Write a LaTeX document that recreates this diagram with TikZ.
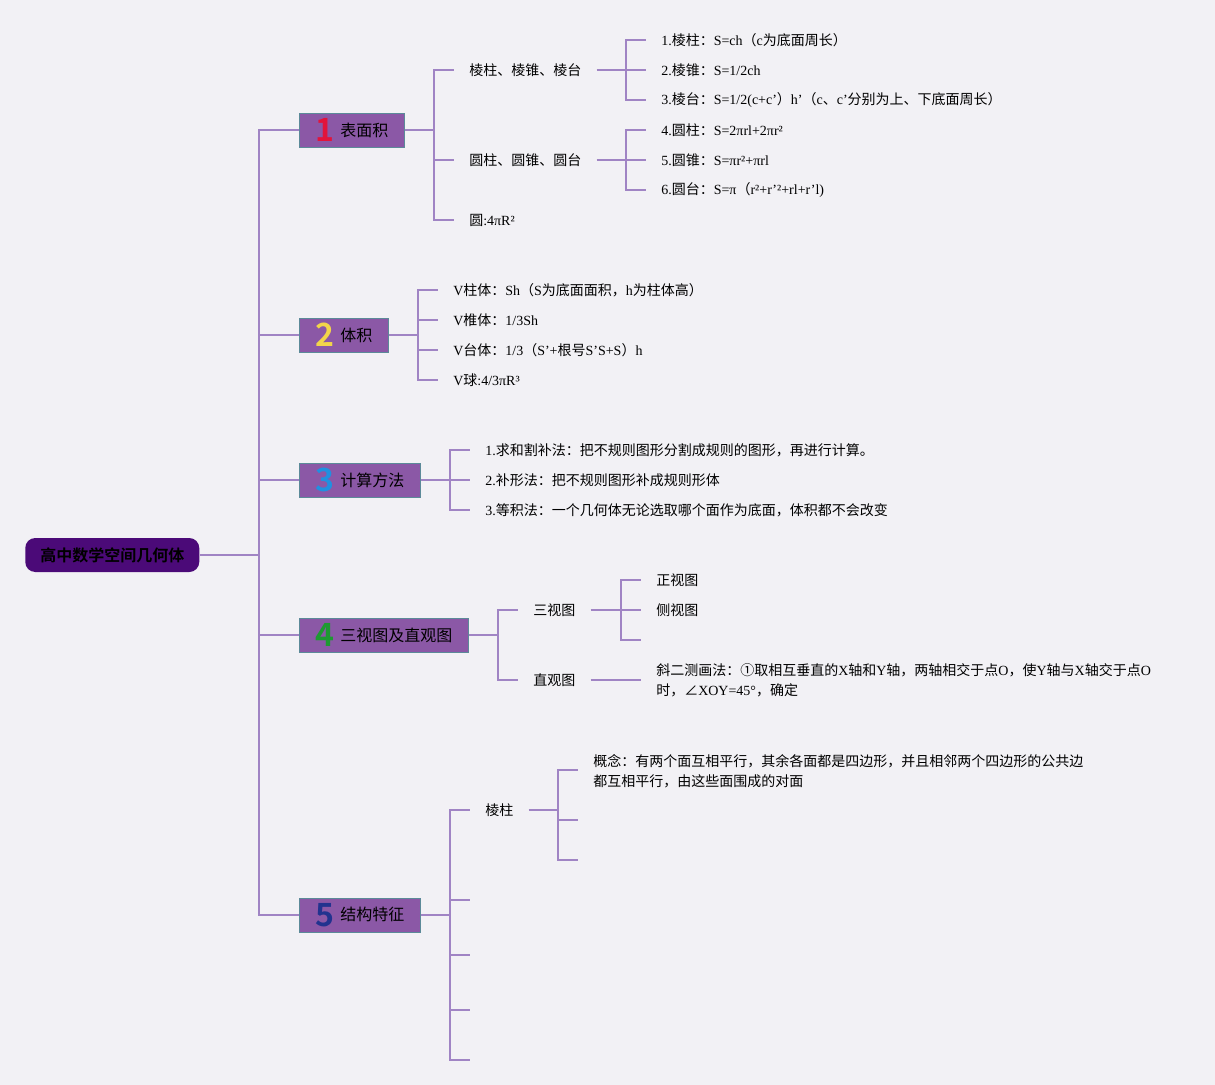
\documentclass[tikz,border=0pt]{standalone}
\usepackage{fontspec}
\setmainfont{Liberation Serif}
\newfontfamily\cjk{Noto Sans CJK SC}[BoldFont={Noto Sans CJK SC Bold}]
\newcommand\zh[1]{{\cjk #1}}
\newcommand\pr{{\char"27\relax}}
\definecolor{bgcol}{RGB}{242,241,245}
\definecolor{linecol}{RGB}{160,132,196}
\definecolor{boxcol}{RGB}{139,88,166}
\definecolor{boxline}{RGB}{92,138,153}
\definecolor{rootcol}{RGB}{75,10,120}
\definecolor{numA}{RGB}{226,20,60}
\definecolor{numB}{RGB}{242,213,74}
\definecolor{numC}{RGB}{32,144,224}
\definecolor{numD}{RGB}{30,154,50}
\definecolor{numE}{RGB}{34,51,143}
\tikzset{
    conn/.style={draw=linecol, line width=1.5pt},
    rootbox/.style={anchor=west, fill=rootcol, rounded corners=7.5pt,
      minimum width=130.5pt, minimum height=25.5pt,
      font=\cjk\bfseries\fontsize{12}{14}\selectfont},
    topic/.style={anchor=west, fill=boxcol, draw=boxline, line width=0.6pt,
      minimum height=25.5pt, inner xsep=12pt, inner ysep=0pt,
      font=\cjk\fontsize{12}{14}\selectfont},
    leaf/.style={anchor=west, inner xsep=11.25pt, inner ysep=2pt,
      font=\fontsize{10.5}{15}\selectfont}
}
\newcommand\topicnum[2]{\raisebox{-4pt}{\color{#1}\bfseries\fontsize{24}{24}\selectfont #2}\hspace{4.5pt}}

\begin{document}
\begin{tikzpicture}[x=0.75pt,y=-0.75pt]
    \useasboundingbox[fill=bgcol] (0,0) rectangle (1215,1085);

    % root and trunk
    \node[rootbox] (root) at (25,555) {高中数学空间几何体};
    \coordinate (trunk) at (259,555);
    \draw[conn] (root.east) -- (trunk);

    \node[topic] (area) at (299,130) {\topicnum{numA}{1}表面积};
    \node[topic] (vol) at (299,335) {\topicnum{numB}{2}体积};
    \node[topic] (calc) at (299,480) {\topicnum{numC}{3}计算方法};
    \node[topic] (view) at (299,635) {\topicnum{numD}{4}三视图及直观图};
    \node[topic] (feat) at (299,915) {\topicnum{numE}{5}结构特征};
    \foreach \t in {area,vol,calc,view,feat}{
        \draw[conn] (trunk) |- (\t.west);
    }

    % 1 surface area
    \coordinate (area-j) at (434,130);
    \draw[conn] (area.east) -- (area-j);
    \node[leaf] (area-prism) at (454,70) {\zh{棱柱、棱锥、棱台}};
    \node[leaf] (area-round) at (454,160) {\zh{圆柱、圆锥、圆台}};
    \node[leaf] (area-ball) at (454,220) {\zh{圆}:4πR²};
    \foreach \n in {prism,round,ball}{
        \draw[conn] (area-j) |- (area-\n.west);
    }

    \coordinate (prism-j) at (626,70);
    \draw[conn] (area-prism.east) -- (prism-j);
    \node[leaf] (prism-1) at (646,40) {1.\zh{棱柱：}S=ch\zh{（}c\zh{为底面周长）}};
    \node[leaf] (prism-2) at (646,70) {2.\zh{棱锥：}S=1/2ch};
    \node[leaf] (prism-3) at (646,100) {3.\zh{棱台：}S=1/2(c+c\pr\zh{）}h\pr\zh{（}c\zh{、}c\pr\zh{分别为上、下底面周长）}};
    \foreach \i in {1,2,3}{
        \draw[conn] (prism-j) |- (prism-\i.west);
    }

    \coordinate (round-j) at (626,160);
    \draw[conn] (area-round.east) -- (round-j);
    \node[leaf] (round-1) at (646,130) {4.\zh{圆柱：}S=2πrl+2πr²};
    \node[leaf] (round-2) at (646,160) {5.\zh{圆锥：}S=πr²+πrl};
    \node[leaf] (round-3) at (646,190) {6.\zh{圆台：}S=π\zh{（}r²+r\pr²+rl+r\pr l)};
    \foreach \i in {1,2,3}{
        \draw[conn] (round-j) |- (round-\i.west);
    }

    % 2 volume
    \coordinate (vol-j) at (418,335);
    \draw[conn] (vol.east) -- (vol-j);
    \node[leaf] (vol-1) at (438,290) {V\zh{柱体：}Sh\zh{（}S\zh{为底面面积，}h\zh{为柱体高）}};
    \node[leaf] (vol-2) at (438,320) {V\zh{椎体：}1/3Sh};
    \node[leaf] (vol-3) at (438,350) {V\zh{台体：}1/3\zh{（}S\pr+\zh{根号}S\pr S+S\zh{）}h};
    \node[leaf] (vol-4) at (438,380) {V\zh{球}:4/3πR³};
    \foreach \i in {1,...,4}{
        \draw[conn] (vol-j) |- (vol-\i.west);
    }

    % 3 methods
    \coordinate (calc-j) at (450,480);
    \draw[conn] (calc.east) -- (calc-j);
    \node[leaf] (calc-1) at (470,450) {1.\zh{求和割补法：把不规则图形分割成规则的图形，再进行计算。}};
    \node[leaf] (calc-2) at (470,480) {2.\zh{补形法：把不规则图形补成规则形体}};
    \node[leaf] (calc-3) at (470,510) {3.\zh{等积法：一个几何体无论选取哪个面作为底面，体积都不会改变}};
    \foreach \i in {1,2,3}{
        \draw[conn] (calc-j) |- (calc-\i.west);
    }

    % 4 views
    \coordinate (view-j) at (498,635);
    \draw[conn] (view.east) -- (view-j);
    \node[leaf] (view-three) at (518,610) {\zh{三视图}};
    \node[leaf] (view-oblique) at (518,680) {\zh{直观图}};
    \foreach \n in {three,oblique}{
        \draw[conn] (view-j) |- (view-\n.west);
    }

    \coordinate (three-j) at (621,610);
    \draw[conn] (view-three.east) -- (three-j);
    \node[leaf] (three-1) at (641,580) {\zh{正视图}};
    \node[leaf] (three-2) at (641,610) {\zh{侧视图}};
    \coordinate (three-3) at (641,640);
    \draw[conn] (three-j) |- (three-1.west);
    \draw[conn] (three-j) |- (three-2.west);
    \draw[conn] (three-j) |- (three-3);

    \node[leaf, align=left] (oblique-1) at (641,680)
        {\zh{斜二测画法：①取相互垂直的}X\zh{轴和}Y\zh{轴，两轴相交于点}O\zh{，使}Y\zh{轴与}X\zh{轴交于点}O\\
         \zh{时，∠}XOY=45°\zh{，确定}};
    \draw[conn] (view-oblique.east) -- (oblique-1.west);

    % 5 structure
    \coordinate (feat-j) at (450,915);
    \draw[conn] (feat.east) -- (feat-j);
    \node[leaf] (feat-prism) at (470,810) {\zh{棱柱}};
    \draw[conn] (feat-j) |- (feat-prism.west);
    \foreach \i/\y in {1/900,2/955,3/1010,4/1060}{
        \coordinate (feat-e\i) at (470,\y);
        \draw[conn] (feat-j) |- (feat-e\i);
    }

    \coordinate (fprism-j) at (558,810);
    \draw[conn] (feat-prism.east) -- (fprism-j);
    \node[leaf, align=left] (fprism-1) at (578,771)
        {\zh{概念：有两个面互相平行，其余各面都是四边形，并且相邻两个四边形的公共边}\\
         \zh{都互相平行，由这些面围成的对面}};
    \coordinate (fprism-2) at (578,820);
    \coordinate (fprism-3) at (578,860);
    \draw[conn] (fprism-j) |- ([yshift=0.75pt]fprism-1.west);
    \draw[conn] (fprism-j) |- (fprism-2);
    \draw[conn] (fprism-j) |- (fprism-3);
\end{tikzpicture}
\end{document}
